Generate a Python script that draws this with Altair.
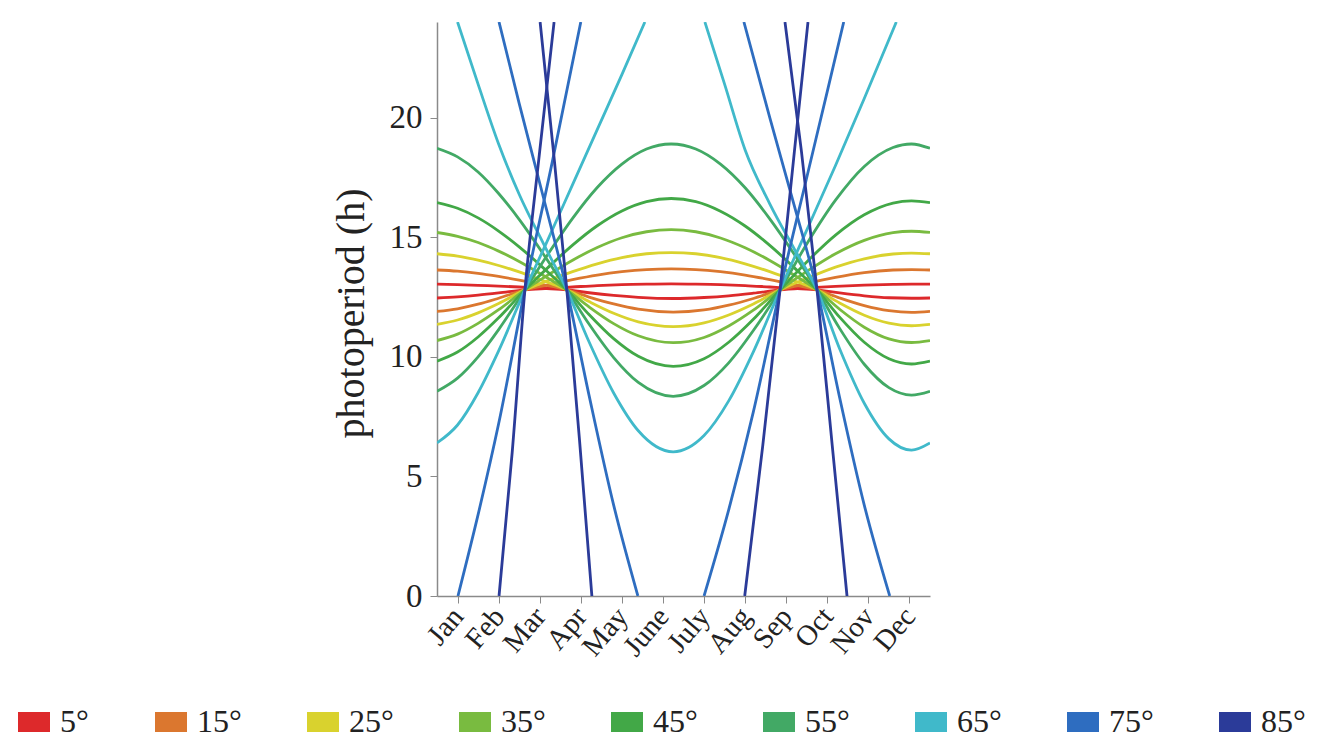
import altair as alt
import pandas as pd

MONTHS = ["Jan", "Feb", "Mar", "Apr", "May", "June", "July", "Aug", "Sep", "Oct", "Nov", "Dec"]
MONTH_TICKS = [1, 2, 3, 4, 5, 6, 7, 8, 9, 10, 11, 12]
LATITUDES = ["5°", "15°", "25°", "35°", "45°", "55°", "65°", "75°", "85°"]
COLORS = ["#dd292b", "#db772f", "#d9d22e", "#79bb40", "#42a847", "#42a965", "#40b9ca", "#2e6dc0", "#2b3b99"]

# month positions (Jan tick = 1) for northern-hemisphere curves
M_N = [0.5, 1.0, 1.5, 2.0, 2.64, 3.2, 3.8, 4.4, 5.0, 5.6, 6.2, 6.8, 7.4, 8.0, 8.6, 9.2, 9.75, 10.3, 10.9, 11.5, 12.05, 12.5]
N5 = [12.46, 12.51, 12.58, 12.67, 12.8, 12.86, 12.92, 12.98, 13.02, 13.04, 13.05, 13.04, 13.02, 12.98, 12.92, 12.86, 12.8, 12.67, 12.55, 12.47, 12.45, 12.46]
N15 = [11.90, 12.01, 12.20, 12.45, 12.8, 13.01, 13.23, 13.42, 13.56, 13.65, 13.68, 13.65, 13.56, 13.42, 13.23, 13.01, 12.8, 12.46, 12.14, 11.93, 11.86, 11.90]
N25 = [11.36, 11.54, 11.84, 12.23, 12.8, 13.18, 13.56, 13.89, 14.15, 14.31, 14.36, 14.31, 14.15, 13.89, 13.56, 13.18, 12.8, 12.25, 11.74, 11.41, 11.30, 11.36]
N35 = [10.68, 10.95, 11.40, 11.97, 12.8, 13.42, 14.04, 14.57, 14.98, 15.23, 15.32, 15.23, 14.97, 14.56, 14.03, 13.41, 12.8, 11.99, 11.24, 10.75, 10.60, 10.68]
N45 = [9.82, 10.20, 10.83, 11.63, 12.8, 13.73, 14.67, 15.48, 16.10, 16.49, 16.62, 16.49, 16.09, 15.47, 14.66, 13.72, 12.8, 11.66, 10.61, 9.92, 9.70, 9.82]
N55 = [8.56, 9.11, 10.00, 11.14, 12.8, 14.29, 15.79, 17.08, 18.06, 18.69, 18.90, 18.69, 18.06, 17.07, 15.77, 14.28, 12.8, 11.19, 9.69, 8.71, 8.40, 8.56]

# month positions for southern-hemisphere curves
M_S = [0.5, 1.0, 1.5, 2.0, 2.5, 3.1, 3.66, 4.2, 4.8, 5.4, 6.25, 7.0, 7.6, 8.2, 8.85, 9.5, 10.2, 10.9, 11.6, 12.05, 12.5]
S5 = [13.04, 13.02, 12.99, 12.96, 12.92, 12.86, 12.8, 12.68, 12.57, 12.49, 12.44, 12.48, 12.55, 12.66, 12.8, 12.88, 12.95, 13.00, 13.03, 13.04, 13.04]
S15 = [13.63, 13.58, 13.49, 13.36, 13.21, 13.01, 12.8, 12.50, 12.21, 11.99, 11.87, 11.96, 12.16, 12.44, 12.8, 13.07, 13.32, 13.52, 13.63, 13.65, 13.63]
S25 = [14.31, 14.21, 14.04, 13.82, 13.55, 13.17, 12.8, 12.31, 11.82, 11.46, 11.26, 11.42, 11.75, 12.21, 12.8, 13.28, 13.75, 14.10, 14.30, 14.34, 14.31]
S35 = [15.20, 15.04, 14.78, 14.42, 13.99, 13.39, 12.8, 12.09, 11.39, 10.88, 10.59, 10.81, 11.29, 11.95, 12.8, 13.57, 14.31, 14.87, 15.19, 15.25, 15.20]
S45 = [16.45, 16.21, 15.81, 15.26, 14.60, 13.70, 12.8, 11.77, 10.76, 10.02, 9.60, 9.92, 10.61, 11.57, 12.8, 13.97, 15.09, 15.94, 16.43, 16.52, 16.45]
S55 = [18.72, 18.36, 17.73, 16.83, 15.75, 14.27, 12.8, 11.37, 9.97, 8.93, 8.35, 8.80, 9.75, 11.10, 12.8, 14.72, 16.55, 17.96, 18.75, 18.90, 18.72]

# high latitudes: pieces between the 0 h and 24 h limits of the plot
M_N65A = [0.5, 1.0, 1.5, 2.0, 2.64, 3.2, 3.8, 4.4, 5.0, 5.56]
N65A = [6.40, 7.15, 8.50, 10.25, 12.8, 14.9, 17.2, 19.5, 21.8, 24.0]
M_N65B = [7.02, 7.5, 8.0, 8.6, 9.2, 9.75, 10.3, 10.9, 11.5, 12.05, 12.5]
N65B = [24.0, 21.4, 18.65, 16.4, 14.5, 12.8, 10.34, 8.06, 6.57, 6.10, 6.40]
M_S65 = [1.0, 1.5, 2.0, 2.5, 3.1, 3.66, 4.2, 4.8, 5.4, 6.25, 7.0, 7.6, 8.2, 8.85, 9.5, 10.2, 10.9, 11.68]
S65 = [24.0, 21.4, 18.9, 16.8, 14.7, 12.8, 10.63, 8.49, 6.91, 6.03, 6.71, 8.16, 10.21, 12.8, 15.3, 18.0, 20.8, 24.0]

M_N75A = [1.01, 1.5, 2.0, 2.64, 3.3, 4.0]
N75A = [0.0, 3.4, 7.2, 12.8, 18.1, 24.0]
M_N75B = [7.97, 8.6, 9.2, 9.75, 10.3, 10.9, 11.52]
N75B = [24.0, 20.0, 16.3, 12.8, 8.3, 3.8, 0.0]
M_S75A = [2.01, 2.5, 3.1, 3.66, 4.2, 4.8, 5.39]
S75A = [24.0, 20.6, 16.6, 12.8, 8.4, 3.8, 0.0]
M_S75B = [7.0, 7.6, 8.2, 8.85, 9.5, 10.0, 10.4]
S75B = [0.0, 3.6, 7.7, 12.8, 17.5, 21.1, 24.0]

M_N85A = [2.01, 2.33, 2.64, 3.0, 3.35]
N85A = [0.0, 6.0, 12.8, 18.6, 24.0]
M_N85B = [8.97, 9.37, 9.75, 10.12, 10.48]
N85B = [24.0, 18.6, 12.8, 6.3, 0.0]
M_S85A = [3.01, 3.34, 3.66, 3.97, 4.27]
S85A = [24.0, 18.5, 12.8, 6.5, 0.0]
M_S85B = [7.99, 8.43, 8.85, 9.2, 9.53]
S85B = [0.0, 6.3, 12.8, 18.6, 24.0]

curves = [
    ("N5", "5°", M_N, N5), ("S5", "5°", M_S, S5),
    ("N15", "15°", M_N, N15), ("S15", "15°", M_S, S15),
    ("N25", "25°", M_N, N25), ("S25", "25°", M_S, S25),
    ("N35", "35°", M_N, N35), ("S35", "35°", M_S, S35),
    ("N45", "45°", M_N, N45), ("S45", "45°", M_S, S45),
    ("N55", "55°", M_N, N55), ("S55", "55°", M_S, S55),
    ("N65A", "65°", M_N65A, N65A), ("N65B", "65°", M_N65B, N65B), ("S65", "65°", M_S65, S65),
    ("N75A", "75°", M_N75A, N75A), ("N75B", "75°", M_N75B, N75B),
    ("S75A", "75°", M_S75A, S75A), ("S75B", "75°", M_S75B, S75B),
    ("N85A", "85°", M_N85A, N85A), ("N85B", "85°", M_N85B, N85B),
    ("S85A", "85°", M_S85A, S85A), ("S85B", "85°", M_S85B, S85B),
]

rows = []
for name, lat, xs, ys in curves:
    for x, y in zip(xs, ys):
        rows.append({"series": name, "lat": lat, "month": x, "hours": y})
df = pd.DataFrame(rows)

label_expr = "[''," + ",".join("'" + m + "'" for m in MONTHS) + "][datum.value]"
FONT = "Liberation Serif"

chart = alt.Chart(df).mark_line(interpolate="monotone", clip=True).encode(
    x=alt.X(
        "month:Q",
        scale=alt.Scale(domain=[0.5, 12.5], nice=False, zero=False),
        axis=alt.Axis(
            values=MONTH_TICKS, labelExpr=label_expr, title=None, grid=False,
            labelAngle=-50, labelAlign="right", labelBaseline="middle", labelOverlap=False,
            labelFont=FONT, labelFontSize=29, labelColor="#222222", labelPadding=8,
            tickSize=7, tickColor="#8a8a8a", domainColor="#8a8a8a", domainWidth=1.5,
        ),
    ),
    y=alt.Y(
        "hours:Q",
        scale=alt.Scale(domain=[0, 24], nice=False),
        axis=alt.Axis(
            values=[0, 5, 10, 15, 20], title="photoperiod (h)", grid=False,
            labelFont=FONT, labelFontSize=33, labelColor="#222222", labelPadding=8,
            tickSize=7, tickColor="#8a8a8a", domainColor="#8a8a8a", domainWidth=1.5,
            titleFont=FONT, titleFontSize=40, titleFontWeight="normal", titleColor="#222222",
            titleAngle=-90, titleAlign="center", titleBaseline="middle", titleX=-86, titleY=291,
        ),
    ),
    color=alt.Color(
        "lat:N",
        scale=alt.Scale(domain=LATITUDES, range=COLORS),
        legend=alt.Legend(
            orient="none", legendX=-429, legendY=674, direction="horizontal", columns=9,
            title=None, symbolType="stroke", symbolSize=1024, symbolStrokeWidth=20,
            labelFont=FONT, labelFontSize=32, labelColor="#222222", labelOffset=0,
            columnPadding=25, padding=0,
        ),
    ),
    detail="series:N",
    strokeWidth=alt.value(2.8),
).properties(
    width=493, height=574,
    autosize=alt.AutoSizeParams(type="none"),
    padding={"left": 437, "top": 22, "right": 408, "bottom": 153},
).configure_view(stroke=None)

chart.save("out.html", embed_options={"renderer": "svg", "actions": False})
